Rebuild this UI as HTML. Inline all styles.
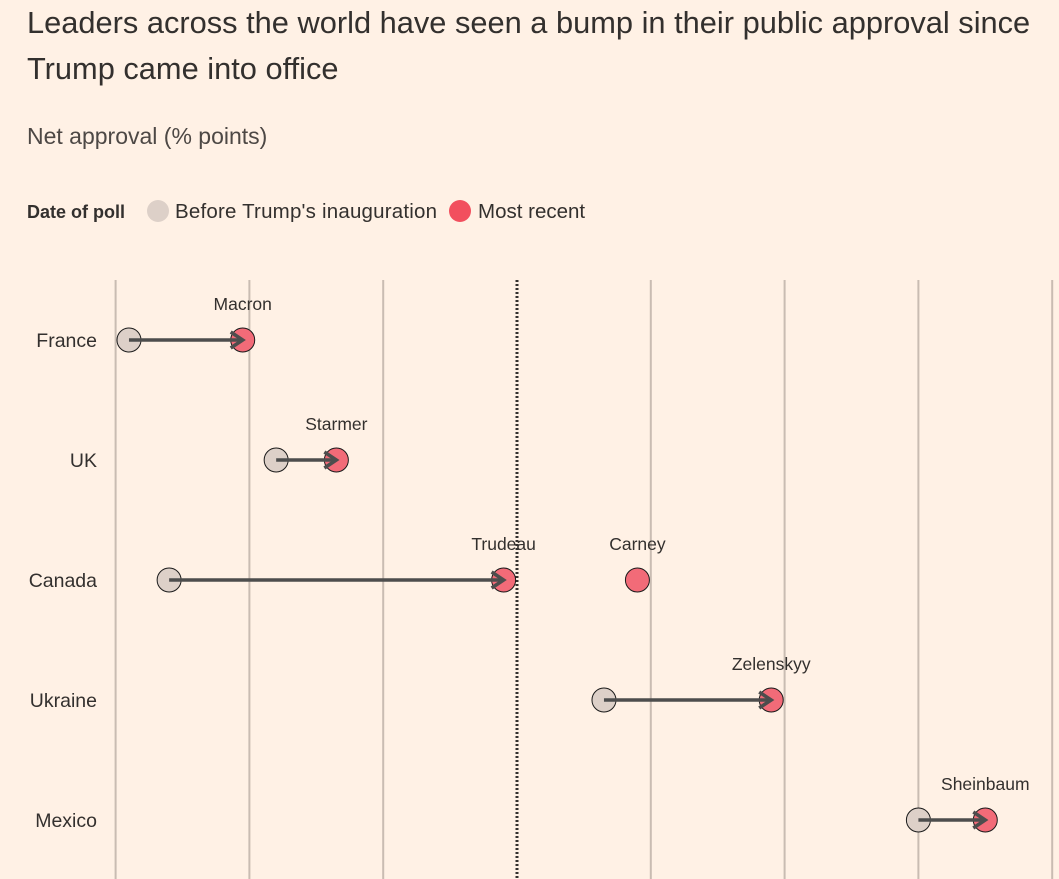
<!DOCTYPE html>
<html><head><meta charset="utf-8"><style>
body{margin:0;background:#fff1e5;font-family:"Liberation Sans",sans-serif;color:#33302e}
svg{display:block}
</style></head><body>
<svg width="1059" height="879">
<rect width="1059" height="879" fill="#fff1e5"/>
<text x="27" y="33" font-size="30.8" fill="#33302e">Leaders across the world have seen a bump in their public approval since</text>
<text x="27" y="79" font-size="30.8" fill="#33302e">Trump came into office</text>
<text x="27" y="144" font-size="23" fill="#4d4845">Net approval (% points)</text>
<g>
<text x="27" y="218" font-size="18" font-weight="bold" fill="#33302e">Date of poll</text>
<circle cx="158" cy="211" r="11" fill="#ddd0c8"/>
<text x="175" y="218" font-size="20.5" fill="#33302e" textLength="262">Before Trump's inauguration</text>
<circle cx="460" cy="211" r="11" fill="#f24f5e"/>
<text x="478" y="218" font-size="20.5" fill="#33302e">Most recent</text>
</g>
<g id="grid"></g>
<g id="rows"></g>
</svg>
<script>
const countries=["France","UK","Canada","Ukraine","Mexico"];
const leaders=["Macron","Starmer","Trudeau","Zelenskyy","Sheinbaum"];
const beforeVals=[-58,-36,-52,13,60];
const recentVals=[-41,-27,-2,38,70];
const extraLeader="Carney";
const extraVal=18;
const gridTicks=[-60,-40,-20,0,20,40,60,80];
const NS="http://www.w3.org/2000/svg";
const x=v=>517+v*6.69;
const y=i=>340+i*120;
function mk(tag,attrs,parent){const e=document.createElementNS(NS,tag);for(const k in attrs)e.setAttribute(k,attrs[k]);parent.appendChild(e);return e;}
const grid=document.getElementById('grid'),rows=document.getElementById('rows');
gridTicks.forEach(t=>{
 const l=mk('line',{x1:x(t),x2:x(t),y1:280,y2:879,stroke:t===0?'#33302e':'#c9bcb2','stroke-width':t===0?3:2,'stroke-dasharray':t===0?'2,2':'none'},grid);
 
 
});
function dot(cx,cy,fill,name){const c=mk('circle',{cx:cx,cy:cy,r:12,fill:fill,stroke:'#1a1a1a','stroke-width':1},rows);
 }
function lbl(tx,ty,s,size,anchor,name){const t=mk('text',{x:tx,y:ty,'font-size':size,'text-anchor':anchor,fill:'#33302e'},rows);t.textContent=s;
 }
countries.forEach((c,i)=>{
 const yy=y(i),xb=x(beforeVals[i]),xr=x(recentVals[i]);
 lbl(97,yy+7,c,19.5,'end','country-label');
 lbl(xr,yy-30,leaders[i],17.5,'middle','leader-label');
 dot(xb,yy,'#ddd0c8','dot-before');
 dot(xr,yy,'#f26b78','dot-recent');
 const ln=mk('line',{x1:xb,y1:yy,x2:xr,y2:yy,stroke:'#4d4d4d','stroke-width':3.5},rows);
 
 const ah=mk('path',{d:`M${xr-12},${yy-8} L${xr},${yy} L${xr-12},${yy+8}`,fill:'none',stroke:'#4d4d4d','stroke-width':3.5},rows);
 
});
dot(x(extraVal),y(2),'#f26b78','dot-carney');
lbl(x(extraVal),y(2)-30,extraLeader,17.5,'middle','leader-label');
</script>
</body></html>
